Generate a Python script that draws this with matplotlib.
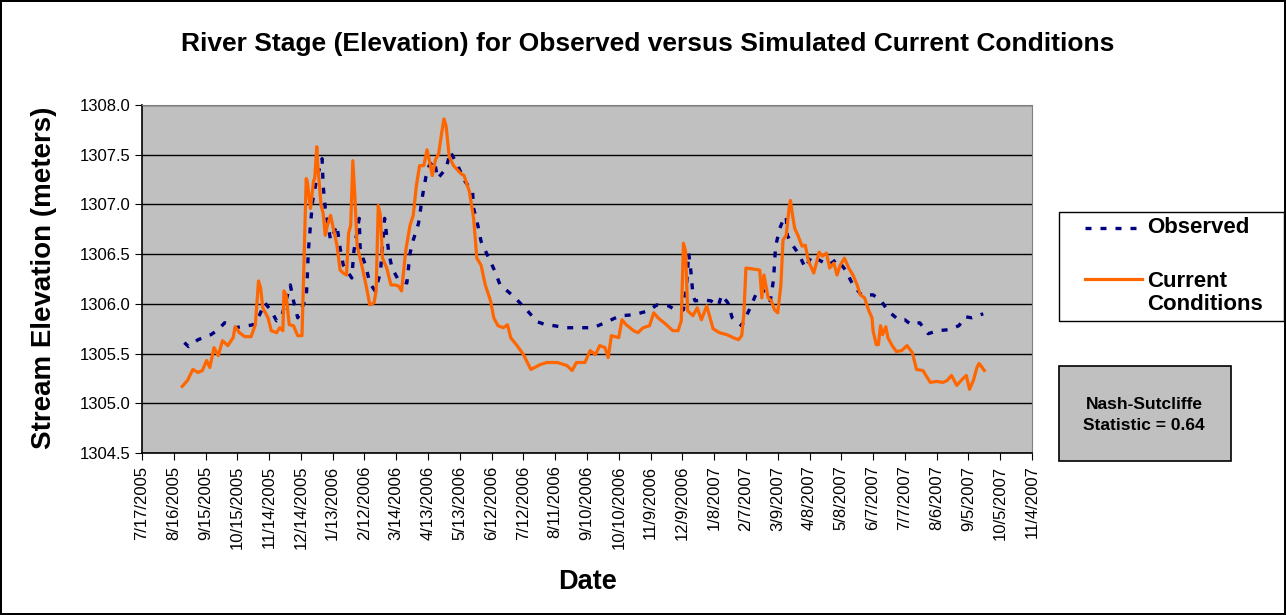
import pandas as pd
import matplotlib
matplotlib.use('Agg')
import matplotlib.pyplot as plt
import matplotlib.dates as mdates
from matplotlib.ticker import FormatStrFormatter, FixedLocator
from matplotlib.patches import Rectangle
from matplotlib.lines import Line2D

plt.rcParams['font.family'] = ['Liberation Sans', 'DejaVu Sans']

START = '2005-07-17'

# days after 7/17/2005 and stage (m)
cur_days = [38, 43, 48, 53, 57, 61, 64, 68, 72, 76, 81, 86, 88, 92, 97, 103, 107,
            110, 112, 114, 119, 122, 127, 130, 133, 134, 136, 139, 143, 147, 151,
            152, 155, 156, 159, 162, 163, 165, 166, 169, 171, 173, 175, 178, 180,
            184, 187, 190, 193, 195, 197, 199, 201, 203, 208, 212, 215, 219, 221,
            223, 225, 227, 231, 235, 239, 242, 245, 249, 253, 256, 259, 262, 266,
            269, 272, 274, 277, 280, 283, 285, 287, 290, 294, 301, 304, 309, 313,
            316, 320, 324, 329, 332, 336, 341, 345, 348, 354, 360, 367, 376, 382,
            392, 401, 406, 410, 418, 423, 428, 432, 437, 440, 443, 450, 453, 457,
            464, 468, 473, 479, 483, 487, 495, 501, 506, 509, 511, 513, 515, 520,
            524, 528, 533, 539, 545, 552, 558, 563, 566, 568, 570, 577, 583, 585,
            587, 591, 594, 597, 600, 603, 605, 608, 611, 612, 614, 616, 619, 623,
            626, 629, 634, 637, 639, 642, 646, 649, 653, 656, 659, 663, 667, 671,
            675, 678, 682, 686, 689, 690, 693, 695, 697, 699, 702, 704, 708, 712,
            717, 722, 727, 731, 737, 744, 750, 756, 760, 764, 769, 774, 778, 781,
            785, 788, 790, 793, 795]
cur_vals = [1305.17, 1305.23, 1305.34, 1305.31, 1305.33, 1305.43, 1305.36, 1305.56,
            1305.48, 1305.63, 1305.58, 1305.66, 1305.77, 1305.71, 1305.67, 1305.67,
            1305.79, 1306.23, 1306.16, 1305.96, 1305.86, 1305.73, 1305.71, 1305.76,
            1305.73, 1306.13, 1306.09, 1305.79, 1305.78, 1305.68, 1305.68, 1306.06,
            1307.26, 1307.23, 1306.96, 1307.24, 1307.26, 1307.58, 1307.39, 1306.99,
            1306.91, 1306.69, 1306.79, 1306.89, 1306.79, 1306.59, 1306.34, 1306.31,
            1306.29, 1306.71, 1306.79, 1307.44, 1307.06, 1306.59, 1306.36, 1306.16,
            1305.99, 1306.01, 1306.13, 1306.99, 1306.89, 1306.46, 1306.36, 1306.19,
            1306.19, 1306.18, 1306.13, 1306.54, 1306.79, 1306.89, 1307.19, 1307.39,
            1307.39, 1307.55, 1307.40, 1307.29, 1307.45, 1307.51, 1307.73, 1307.86,
            1307.79, 1307.48, 1307.39, 1307.31, 1307.29, 1307.13, 1306.86, 1306.46,
            1306.39, 1306.19, 1306.03, 1305.86, 1305.78, 1305.76, 1305.79, 1305.66,
            1305.58, 1305.49, 1305.34, 1305.39, 1305.41, 1305.41, 1305.38, 1305.33,
            1305.41, 1305.41, 1305.53, 1305.49, 1305.58, 1305.56, 1305.46, 1305.68,
            1305.66, 1305.84, 1305.79, 1305.73, 1305.71, 1305.76, 1305.78, 1305.91,
            1305.86, 1305.79, 1305.73, 1305.73, 1305.83, 1306.61, 1306.53, 1305.93,
            1305.88, 1305.96, 1305.84, 1305.98, 1305.75, 1305.71, 1305.69, 1305.66,
            1305.64, 1305.68, 1305.89, 1306.36, 1306.35, 1306.34, 1306.06, 1306.29,
            1306.06, 1306.03, 1305.94, 1305.91, 1306.19, 1306.64, 1306.69, 1306.99,
            1307.04, 1306.89, 1306.76, 1306.69, 1306.58, 1306.59, 1306.43, 1306.31,
            1306.43, 1306.52, 1306.48, 1306.51, 1306.36, 1306.41, 1306.29, 1306.39,
            1306.46, 1306.36, 1306.29, 1306.19, 1306.09, 1306.06, 1305.93, 1305.86,
            1305.73, 1305.59, 1305.59, 1305.78, 1305.69, 1305.77, 1305.66, 1305.58,
            1305.52, 1305.53, 1305.58, 1305.51, 1305.34, 1305.33, 1305.21, 1305.22,
            1305.21, 1305.23, 1305.28, 1305.18, 1305.24, 1305.28, 1305.14, 1305.24,
            1305.36, 1305.40, 1305.36, 1305.33]

obs_days = [40, 44, 53, 65, 72, 78, 88, 100, 105, 111, 116, 122, 127, 132, 140, 143,
            147, 151, 155, 156, 157, 159, 161, 165, 170, 171, 173, 178, 184, 187, 190,
            198, 200, 205, 206, 211, 215, 220, 225, 229, 231, 233, 236, 242, 250, 253,
            256, 261, 265, 268, 271, 276, 279, 287, 291, 298, 305, 312, 313, 317, 320,
            326, 333, 338, 347, 354, 363, 373, 381, 389, 400, 412, 426, 439, 451, 464,
            478, 486, 497, 505, 511, 514, 516, 518, 520, 522, 530, 537, 544, 547, 553,
            557, 566, 574, 580, 585, 590, 593, 596, 598, 602, 605, 608, 609, 614, 620,
            626, 632, 641, 648, 656, 664, 671, 679, 690, 697, 704, 714, 720, 726, 734,
            742, 751, 761, 771, 777, 783, 794]
obs_vals = [1305.61, 1305.57, 1305.64, 1305.69, 1305.74, 1305.81, 1305.76, 1305.78,
            1305.79, 1305.89, 1306.01, 1305.93, 1305.83, 1305.88, 1306.19, 1306.03,
            1305.86, 1305.96, 1306.06, 1306.26, 1306.53, 1306.79, 1307.03, 1307.26,
            1307.46, 1307.19, 1306.96, 1306.64, 1306.79, 1306.56, 1306.39, 1306.26,
            1306.53, 1306.86, 1306.53, 1306.39, 1306.21, 1306.13, 1306.31, 1306.86,
            1306.68, 1306.51, 1306.36, 1306.24, 1306.21, 1306.51, 1306.64, 1306.81,
            1307.10, 1307.28, 1307.39, 1307.44, 1307.26, 1307.36, 1307.53, 1307.39,
            1307.23, 1307.13, 1306.96, 1306.79, 1306.63, 1306.49, 1306.33, 1306.19,
            1306.11, 1306.04, 1305.94, 1305.82, 1305.79, 1305.78, 1305.76, 1305.76,
            1305.76, 1305.82, 1305.88, 1305.89, 1305.93, 1305.99, 1305.98, 1305.93,
            1305.94, 1306.19, 1306.51, 1306.33, 1306.09, 1306.03, 1306.04, 1306.03,
            1305.98, 1306.09, 1306.01, 1305.86, 1305.78, 1305.96, 1306.11, 1306.16,
            1306.06, 1306.03, 1306.24, 1306.58, 1306.76, 1306.84, 1306.88, 1306.69,
            1306.59, 1306.50, 1306.36, 1306.48, 1306.43, 1306.39, 1306.45, 1306.34,
            1306.19, 1306.09, 1306.09, 1306.04, 1305.93, 1305.84, 1305.84, 1305.79,
            1305.81, 1305.70, 1305.73, 1305.74, 1305.78, 1305.87, 1305.86, 1305.90]

tick_days = list(range(0, 841, 30))
y_ticks = [1304.5, 1305.0, 1305.5, 1306.0, 1306.5, 1307.0, 1307.5, 1308.0]

OBS_STYLE = dict(color='#000080', lw=2.4, linestyle=(0, (1.8, 2.7)))
CUR_STYLE = dict(color='#FF6600', lw=2.3)


def to_dates(days):
    return pd.Timestamp(START) + pd.to_timedelta(days, unit='D')


def main():
    fig = plt.figure(figsize=(12.86, 6.15), dpi=100)
    fig.patch.set_edgecolor('black')
    fig.patch.set_linewidth(1.5)
    ax = fig.add_axes([0.1104, 0.2634, 0.6921, 0.5659])
    ax.set_facecolor('#C0C0C0')

    ax.plot(to_dates(obs_days), obs_vals, **OBS_STYLE)
    ax.plot(to_dates(cur_days), cur_vals, **CUR_STYLE)

    ticks = to_dates(tick_days)
    ax.set_xlim(ticks[0], ticks[-1])
    ax.xaxis.set_major_locator(FixedLocator(mdates.date2num(ticks)))
    ax.set_xticklabels([f'{d.month}/{d.day}/{d.year}' for d in ticks],
                       rotation=90, fontsize=12)
    ax.set_ylim(1304.5, 1308.0)
    ax.set_yticks(y_ticks)
    ax.yaxis.set_major_formatter(FormatStrFormatter('%.1f'))
    ax.tick_params(axis='y', labelsize=12, length=5, direction='out', pad=3)
    ax.tick_params(axis='x', length=5, direction='out', pad=4)
    ax.grid(axis='y', color='black', lw=1)
    ax.set_axisbelow(True)
    for s in ['top', 'right']:
        ax.spines[s].set_color('#808080')
    ax.spines['left'].set_linewidth(1.2)
    ax.spines['bottom'].set_linewidth(1.2)

    fig.text(0.504, 0.928, 'River Stage (Elevation) for Observed versus Simulated Current Conditions',
             ha='center', va='center', fontsize=19, fontweight='bold')
    fig.text(0.034, 0.549, 'Stream Elevation (meters)', rotation=90, ha='center',
             va='center', fontsize=20, fontweight='bold')
    fig.text(0.457, 0.054, 'Date', ha='center', va='center', fontsize=19.5,
             fontweight='bold')

    # legend box, drawn by hand to match the original spacing
    fig.patches.append(Rectangle((0.8235, 0.478), 0.175, 0.1772,
                                 transform=fig.transFigure, facecolor='white',
                                 edgecolor='black', lw=1))
    fig.add_artist(Line2D([0.8437, 0.8880], [0.6293, 0.6293],
                          transform=fig.transFigure, **OBS_STYLE))
    fig.add_artist(Line2D([0.8437, 0.8880], [0.5459, 0.5459],
                          transform=fig.transFigure, **CUR_STYLE))
    fig.text(0.8919, 0.6293, 'Observed', ha='left', va='center', fontsize=16,
             fontweight='bold')
    fig.text(0.8919, 0.5236, 'Current\nConditions', ha='left', va='center',
             fontsize=16, fontweight='bold', linespacing=1.1)

    fig.patches.append(Rectangle((0.8235, 0.2504), 0.1335, 0.1545,
                                 transform=fig.transFigure, facecolor='#C0C0C0',
                                 edgecolor='black', lw=1.2))
    fig.text(0.8896, 0.325, 'Nash-Sutcliffe\nStatistic = 0.64', ha='center',
             va='center', fontsize=12.5, fontweight='bold', linespacing=1.45)

    fig.savefig('out.png', dpi=100)


if __name__ == '__main__':
    main()
